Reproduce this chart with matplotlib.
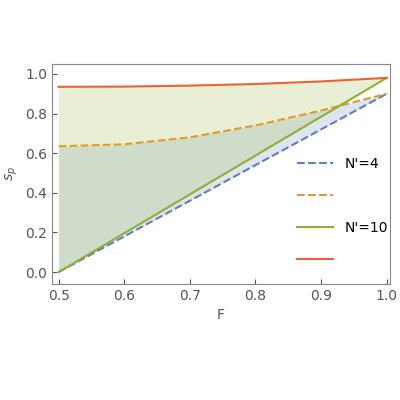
import matplotlib.pyplot as plt

f_vals = [0.5, 0.6, 0.7, 0.8, 0.9, 1.0]
blue_lo = [0.0, 0.18, 0.36, 0.54, 0.72, 0.90]
orange_hi = [0.635, 0.645, 0.68, 0.74, 0.815, 0.90]
green_lo = [0.0, 0.196, 0.392, 0.588, 0.784, 0.98]
red_hi = [0.935, 0.936, 0.941, 0.949, 0.962, 0.98]

fig, ax = plt.subplots(figsize=(4, 4), dpi=100)
fig.subplots_adjust(left=0.13, right=0.975, top=0.84, bottom=0.29)

ax.fill_between(f_vals, blue_lo, orange_hi, color="#5e81b5", alpha=0.2, lw=0)
ax.fill_between(f_vals, green_lo, red_hi, color="#a4c25a", alpha=0.25, lw=0)
ax.plot(f_vals, blue_lo, "--", color="#5e81b5", lw=1.5, label="N'=4")
ax.plot(f_vals, orange_hi, "--", color="#e19c24", lw=1.5, label=" ")
ax.plot(f_vals, green_lo, "-", color="#8fb032", lw=1.5, label="N'=10")
ax.plot(f_vals, red_hi, "-", color="#eb6235", lw=1.5, label="  ")

ax.set_xlim(0.49, 1.005)
ax.set_ylim(-0.06, 1.05)
ax.set_xticks([0.5, 0.6, 0.7, 0.8, 0.9, 1.0])
ax.set_yticks([0, 0.2, 0.4, 0.6, 0.8, 1.0])
ax.set_xlabel("F", color="#555555", fontsize=10)
ax.set_ylabel("$s_p$", color="#555555", fontsize=10)
ax.tick_params(colors="#555555", labelsize=10, direction="in")
for s in ax.spines.values():
    s.set_color("#888888")
ax.legend(loc="lower right", bbox_to_anchor=(1.03, 0.02), frameon=False,
          fontsize=10, handlelength=2.6, labelspacing=1.3)
fig.savefig("out.png")
